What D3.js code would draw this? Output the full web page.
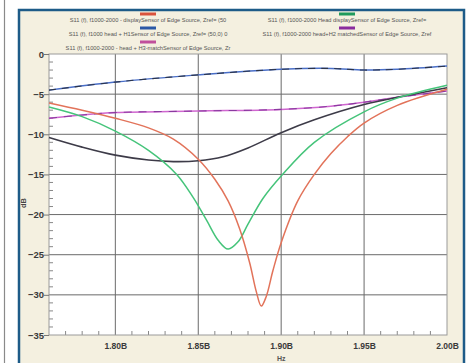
<!DOCTYPE html>
<html>
<head>
<meta charset="utf-8">
<script src="https://cdn.jsdelivr.net/npm/d3@7"></script>
<style>
  body { margin: 0; background: #fff; }
  svg { display: block; font-family: "Liberation Sans", Arial, sans-serif; }
</style>
</head>
<body>
<div id="chart"></div>
<script>
// frequencies in GHz (axis shows them as 1.80B etc.), values in dB
const redF   = [1.76, 1.78, 1.80, 1.82, 1.835, 1.85, 1.86, 1.868, 1.875, 1.881, 1.885, 1.888, 1.891, 1.895, 1.90, 1.91, 1.92, 1.93, 1.94, 1.95, 1.97, 2.00];
const redV   = [-6.1, -7.0, -8.0, -9.2, -10.6, -13.1, -15.6, -18.3, -21.8, -26.0, -29.6, -31.4, -30.2, -27.0, -23.5, -18.3, -15.0, -12.4, -10.3, -8.6, -6.4, -4.4];
const greenF = [1.76, 1.78, 1.80, 1.82, 1.837, 1.847, 1.855, 1.862, 1.868, 1.874, 1.88, 1.889, 1.90, 1.92, 1.95, 1.97, 2.00];
const greenV = [-6.6, -7.8, -9.6, -12.0, -15.0, -17.9, -20.7, -23.2, -24.3, -23.4, -21.2, -18.0, -15.2, -11.0, -7.2, -5.5, -3.9];
const blueF  = [1.76, 1.80, 1.85, 1.90, 1.93, 1.95, 1.97, 2.00];
const blueV  = [-4.5, -3.5, -2.6, -1.9, -1.8, -2.0, -1.9, -1.5];
const pinkF  = [1.76, 1.78, 1.80, 1.85, 1.90, 1.93, 1.95, 1.97, 2.00];
const pinkV  = [-8.0, -7.6, -7.3, -7.1, -6.9, -6.5, -6.0, -5.4, -4.6];
const blackF = [1.76, 1.78, 1.80, 1.82, 1.835, 1.85, 1.865, 1.88, 1.90, 1.92, 1.95, 1.975, 2.00];
const blackV = [-10.4, -11.6, -12.6, -13.2, -13.4, -13.3, -12.8, -11.7, -9.8, -8.2, -6.3, -5.2, -4.2];

const legendNames = [
  "S11 (f), f1000-2000 - displaySensor of Edge Source, Zref= (50",
  "S11 (f), f1000-2000 Head displaySensor of Edge Source, Zref=",
  "S11 (f), f1000 head + H1Sensor of Edge Source, Zref= (50,0) 0",
  "S11 (f), f1000-2000 head+H2 matchedSensor of Edge Source, Zref",
  "S11 (f), f1000-2000 - head + H3-matchSensor of Edge Source, Zr"
];
const legendColors = ["#d9533c", "#1f9a5c", "#2b58a6", "#8a2c9e", "#c0509c"];

const xTicks = [1.80, 1.85, 1.90, 1.95, 2.00];
const yTicks = [0, -5, -10, -15, -20, -25, -30, -35];

const W = 471, H = 363;
const plot = { left: 49, right: 447, top: 54, bottom: 335 };

const svg = d3.select("#chart").append("svg")
  .attr("width", W).attr("height", H);

// outer frame line + panel
svg.append("line").attr("x1", 4.5).attr("x2", 4.5).attr("y1", 0).attr("y2", H)
  .attr("stroke", "#8a8a8a").attr("stroke-width", 1.2);
svg.append("rect").attr("x", 19).attr("y", 10).attr("width", 445).attr("height", H)
  .attr("fill", "#f4f0e0").attr("stroke", "#1d5b88").attr("stroke-width", 2.5);

const x = d3.scaleLinear().domain([1.76, 2.00]).range([plot.left, plot.right]);
const y = d3.scaleLinear().domain([-35, 0]).range([plot.bottom, plot.top]);

svg.append("rect").attr("x", plot.left).attr("y", plot.top)
  .attr("width", plot.right - plot.left).attr("height", plot.bottom - plot.top)
  .attr("fill", "#fff");

// grid
const g = svg.append("g");
g.selectAll(".vg").data(xTicks.slice(0, -1)).join("line")
  .attr("x1", d => x(d)).attr("x2", d => x(d))
  .attr("y1", plot.top).attr("y2", plot.bottom)
  .attr("stroke", "#6a6a6a").attr("stroke-width", 1);
g.selectAll(".hg").data(yTicks.slice(1, -1)).join("line")
  .attr("x1", plot.left).attr("x2", plot.right)
  .attr("y1", d => y(d)).attr("y2", d => y(d))
  .attr("stroke", "#6a6a6a").attr("stroke-width", 1);

// minor ticks
const xMinor = d3.range(1.77, 2.0, 0.01).filter(v => Math.abs(v * 20 - Math.round(v * 20)) > 0.01);
g.selectAll(".xm").data(xMinor).join("line")
  .attr("x1", d => x(d)).attr("x2", d => x(d))
  .attr("y1", plot.bottom).attr("y2", plot.bottom - 4)
  .attr("stroke", "#888");
const yMinor = d3.range(-34, 0, 1).filter(v => v % 5 !== 0);
g.selectAll(".ym").data(yMinor).join("line")
  .attr("x1", plot.left).attr("x2", plot.left + 4)
  .attr("y1", d => y(d)).attr("y2", d => y(d))
  .attr("stroke", "#888");

svg.append("rect").attr("x", plot.left).attr("y", plot.top)
  .attr("width", plot.right - plot.left).attr("height", plot.bottom - plot.top)
  .attr("fill", "none").attr("stroke", "#9a9a9a");

// axes labels
const yAxis = svg.append("g").attr("transform", `translate(${plot.left},0)`)
  .call(d3.axisLeft(y).tickValues(yTicks).tickSize(5).tickFormat(d3.format("d")));
yAxis.select(".domain").remove();
yAxis.selectAll("line").attr("stroke", "#777");
yAxis.selectAll("text").attr("font-size", 9.5).attr("font-weight", "bold").attr("fill", "#3a3a3a").attr("x", -5);

const xAxis = svg.append("g").attr("transform", `translate(0,${plot.bottom})`)
  .call(d3.axisBottom(x).tickValues(xTicks).tickSize(0).tickFormat(d => d.toFixed(2) + "B"));
xAxis.select(".domain").remove();
xAxis.selectAll("text").attr("font-size", 8.5).attr("font-weight", "bold").attr("fill", "#3a3a3a").attr("dy", "1.35em");

svg.append("text").attr("x", x(1.90)).attr("y", 361).attr("text-anchor", "middle")
  .attr("font-size", 7).attr("font-weight", "bold").attr("fill", "#555").text("Hz");
svg.append("text").attr("transform", "translate(26,203) rotate(-90)").attr("text-anchor", "middle")
  .attr("font-size", 7.5).attr("font-weight", "bold").attr("fill", "#444").text("dB");

// curves
const line = d3.line().x(d => x(d[0])).y(d => y(d[1])).curve(d3.curveCatmullRom.alpha(0.5));
const zip = (f, v) => f.map((d, i) => [d, v[i]]);
const curves = svg.append("g");
function draw(f, v, color, width, dash) {
  curves.append("path").datum(zip(f, v)).attr("d", line)
    .attr("fill", "none").attr("stroke", color).attr("stroke-width", width)
    .attr("stroke-dasharray", dash || null);
}
draw(blueF, blueV, "#4a6fc8", 1.5);
draw(blueF, blueV, "#2c3448", 1.1, "7,6");
draw(pinkF, pinkV, "#cf66cf", 1.5);
draw(pinkF, pinkV, "#8a3aa0", 1.1, "8,7");
draw(blackF, blackV, "#3d3b48", 1.6);
draw(greenF, greenV, "#45c47a", 1.5);
draw(redF, redV, "#e2735a", 1.5);

// legend
const leg = svg.append("g");
const legPos = [[148, 14], [347, 14], [148, 28], [347, 28], [148, 42]];
legendNames.forEach((name, i) => {
  const [cx, cy] = legPos[i];
  leg.append("rect").attr("x", cx - 8).attr("y", cy - 1.5).attr("width", 16).attr("height", 3)
    .attr("fill", legendColors[i]);
  leg.append("text").attr("x", cx).attr("y", cy + 7.5).attr("text-anchor", "middle")
    .attr("font-size", 5.7).attr("fill", "#555").text(name);
});
</script>
</body>
</html>
